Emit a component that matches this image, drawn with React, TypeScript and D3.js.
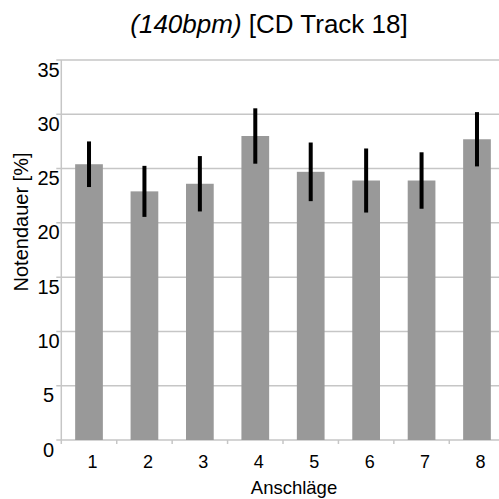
import React from 'react';
import * as d3 from 'd3';

const anschlaege = ['1', '2', '3', '4', '5', '6', '7', '8'];
const notendauer = [25.4, 22.9, 23.6, 28.0, 24.7, 23.9, 23.9, 27.7];
const fehler = [2.1, 2.35, 2.55, 2.55, 2.7, 2.95, 2.6, 2.5];
const yTicks = [0, 5, 10, 15, 20, 25, 30, 35];

const config = {
    left: 61.3,
    right: 504.7,
    top: 60,
    bottom: 440,
    gridColor: '#c6c6c6',
    barColor: '#999999',
    font: '"Liberation Sans", Arial, sans-serif'
};

export default function App() {
    const x = d3.scaleBand<string>()
        .domain(anschlaege)
        .range([config.left, config.right])
        .paddingInner(0.5)
        .paddingOuter(0.25);
    const y = d3.scaleLinear().domain([0, 35]).range([config.bottom, config.top]);
    const step = x.step();
    // tick marks sit on the band boundaries
    const xBounds = anschlaege.map((_, i) => config.left + i * step).concat([config.right]);

    return (
        <div style={{ position: 'absolute', left: 0, top: 0 }}>
            <svg width={499} height={499} style={{ display: 'block', fontFamily: config.font }}>
                <rect width={499} height={499} fill="#fff" />
                <text x={269} y={32.5} fontSize={26} textAnchor="middle" fill="#000">
                    <tspan fontStyle="italic">(140bpm)</tspan> [CD Track 18]
                </text>

                {yTicks.map(t => (
                    <g key={t}>
                        <line x1={config.left - 5} x2={config.right} y1={y(t)} y2={y(t)}
                              stroke={config.gridColor} strokeWidth={1.5} />
                        <text x={48.5} y={y(t) + 16.5} fontSize={20} textAnchor="middle">{t}</text>
                    </g>
                ))}
                <line x1={config.left} x2={config.left} y1={config.top} y2={config.bottom}
                      stroke={config.gridColor} strokeWidth={1.5} />
                {xBounds.map((b, i) => (
                    <line key={i} x1={b} x2={b} y1={config.bottom} y2={config.bottom + 4}
                          stroke={config.gridColor} strokeWidth={1.5} />
                ))}

                {anschlaege.map((a, i) => {
                    const cx = (x(a) as number) + x.bandwidth() / 2;
                    return (
                        <g key={a}>
                            <rect x={x(a)} y={y(notendauer[i])} width={x.bandwidth()}
                                  height={config.bottom - y(notendauer[i])} fill={config.barColor} />
                            <rect x={cx - 2} y={y(notendauer[i] + fehler[i])} width={4}
                                  height={y(notendauer[i] - fehler[i]) - y(notendauer[i] + fehler[i])}
                                  fill="#000" />
                            <text x={cx + 3.5} y={467.5} fontSize={18} textAnchor="middle">{a}</text>
                        </g>
                    );
                })}

                <text x={294} y={494} fontSize={18.5} textAnchor="middle">Anschläge</text>
                <text transform="translate(28,222) rotate(-90)" fontSize={20} textAnchor="middle">
                    Notendauer [%]
                </text>
            </svg>
        </div>
    );
}
